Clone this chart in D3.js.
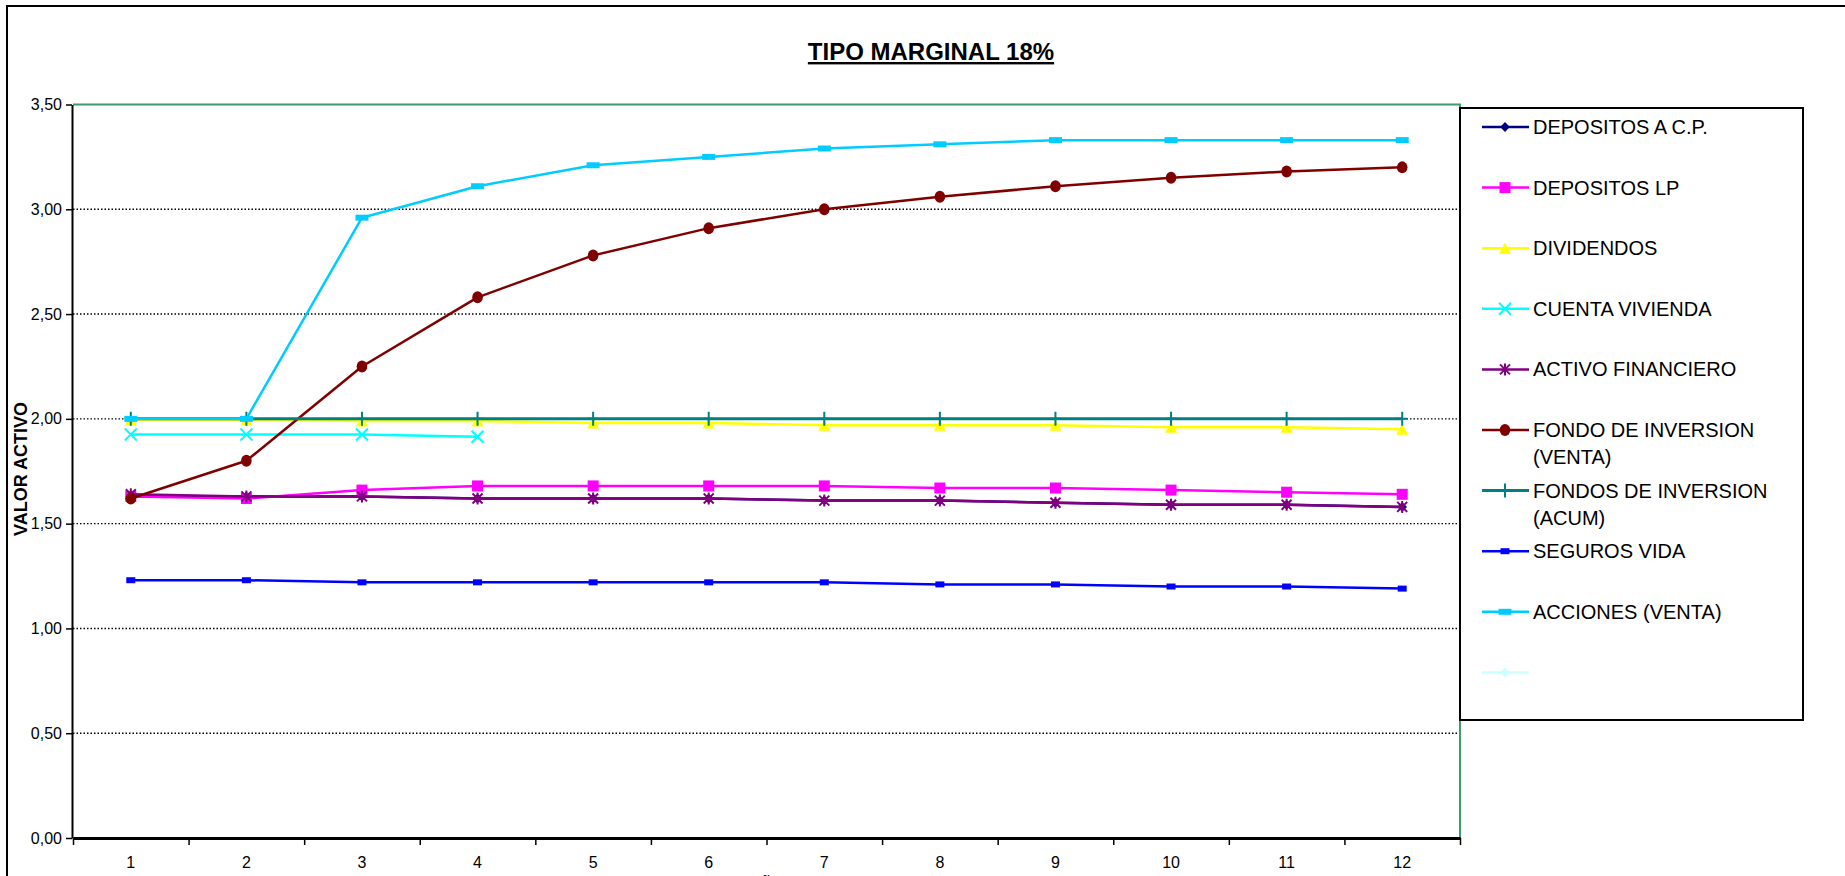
<!DOCTYPE html>
<html>
<head>
<meta charset="utf-8">
<script src="https://cdnjs.cloudflare.com/ajax/libs/d3/7.8.5/d3.min.js"></script>
<style>
  html, body { margin: 0; padding: 0; background: #fff; overflow: hidden; }
  text { font-family: "Liberation Sans", Arial, sans-serif; }
</style>
</head>
<body>
<svg id="chart" width="1845" height="876"></svg>
<script>
// ---------------- DATA ----------------
const chartTitle = "TIPO MARGINAL 18%";
const yAxisTitle = "VALOR ACTIVO";
const xAxisTitle = "AÑO";
const categories = ["1","2","3","4","5","6","7","8","9","10","11","12"];
const yTickValues = [0, 0.5, 1.0, 1.5, 2.0, 2.5, 3.0, 3.5];

const seriesNames = [
  "DEPOSITOS A C.P.",
  "DEPOSITOS LP",
  "DIVIDENDOS",
  "CUENTA VIVIENDA",
  "ACTIVO FINANCIERO",
  "FONDO DE INVERSION (VENTA)",
  "FONDOS DE INVERSION (ACUM)",
  "SEGUROS VIDA",
  "ACCIONES (VENTA)",
  ""
];
const depositosCP      = [1.63, 1.63, 1.63, 1.62, 1.62, 1.62, 1.61, 1.61, 1.60, 1.59, 1.59, 1.58];
const depositosLP      = [1.63, 1.62, 1.66, 1.68, 1.68, 1.68, 1.68, 1.67, 1.67, 1.66, 1.65, 1.64];
const dividendos       = [1.995, 1.995, 1.99, 1.99, 1.98, 1.98, 1.97, 1.97, 1.97, 1.96, 1.96, 1.95];
const cuentaVivienda   = [1.925, 1.925, 1.925, 1.915];
const activoFinanciero = [1.64, 1.63, 1.63, 1.62, 1.62, 1.62, 1.61, 1.61, 1.60, 1.59, 1.59, 1.58];
const fondoVenta       = [1.62, 1.80, 2.25, 2.58, 2.78, 2.91, 3.00, 3.06, 3.11, 3.15, 3.18, 3.20];
const fondosAcum       = [2.00, 2.00, 2.00, 2.00, 2.00, 2.00, 2.00, 2.00, 2.00, 2.00, 2.00, 2.00];
const segurosVida      = [1.23, 1.23, 1.22, 1.22, 1.22, 1.22, 1.22, 1.21, 1.21, 1.20, 1.20, 1.19];
const accionesVenta    = [2.00, 2.00, 2.96, 3.11, 3.21, 3.25, 3.29, 3.31, 3.33, 3.33, 3.33, 3.33];
const serieVacia       = [];

const seriesValues = [depositosCP, depositosLP, dividendos, cuentaVivienda, activoFinanciero,
                      fondoVenta, fondosAcum, segurosVida, accionesVenta, serieVacia];

// ---------------- STYLES ----------------
const seriesStyle = [
  {color: "#000080", marker: "diamond", width: 2.5},
  {color: "#FF00FF", marker: "square",  width: 2.5},
  {color: "#FFFF00", marker: "triangle",width: 2.5},
  {color: "#00FFFF", marker: "x",       width: 2.5},
  {color: "#800080", marker: "asterisk",width: 2.5},
  {color: "#800000", marker: "circle",  width: 2.5},
  {color: "#008080", marker: "plus",    width: 3},
  {color: "#0000FF", marker: "smallrect", width: 2.5},
  {color: "#00CCFF", marker: "widerect",  width: 2.5},
  {color: "#CCFFFF", marker: "diamond", width: 2.5}
];

const plot = {left: 73, right: 1460, top: 104.5, bottom: 838};

const svg = d3.select("#chart");
svg.append("rect").attr("width", 1845).attr("height", 876).attr("fill", "#fff");

// outer chart border
svg.append("rect").attr("x", 7).attr("y", 6).attr("width", 1950).attr("height", 1000)
  .attr("fill", "none").attr("stroke", "#000").attr("stroke-width", 2);

const x = d3.scaleBand().domain(categories).range([plot.left, plot.right]);
const xEdge = d3.scaleLinear().domain([0, categories.length]).range([plot.left, plot.right]);
const y = d3.scaleLinear().domain([0, 3.5]).range([plot.bottom, plot.top]);

// gridlines
svg.append("g").selectAll("line")
  .data(yTickValues.filter(v => v > 0 && v < 3.5))
  .join("line")
  .attr("x1", plot.left).attr("x2", plot.right)
  .attr("y1", d => y(d)).attr("y2", d => y(d))
  .attr("stroke", "#000").attr("stroke-width", 1.4).attr("stroke-dasharray", "1.5,2");

// plot area top/right border (green)
svg.append("path")
  .attr("d", `M${plot.left},${y(3.5)}H${plot.right}V${plot.bottom}`)
  .attr("fill", "none").attr("stroke", "#3c9c6c").attr("stroke-width", 2);

// y axis
const fmt = v => d3.format(".2f")(v).replace(".", ",");
const yAxis = svg.append("g").attr("transform", `translate(${plot.left - 1},0)`)
  .call(d3.axisLeft(y).tickValues(yTickValues).tickFormat(fmt).tickSize(6).tickSizeOuter(0).tickPadding(4));
yAxis.select(".domain").attr("stroke-width", 2);
yAxis.selectAll(".tick line").attr("stroke-width", 1.5);
yAxis.selectAll("text").attr("font-size", 16).attr("fill", "#000");

// x axis: ticks at category boundaries
const xTicks = svg.append("g").attr("transform", `translate(0,${plot.bottom})`)
  .call(d3.axisBottom(xEdge).tickValues(d3.range(0, categories.length + 1)).tickFormat("").tickSize(7).tickSizeOuter(0));
xTicks.select(".domain").attr("stroke-width", 3);
xTicks.selectAll(".tick line").attr("stroke-width", 1.5);

// x axis labels
const xLabels = svg.append("g").attr("transform", `translate(0,${plot.bottom})`)
  .call(d3.axisBottom(x).tickSize(0).tickPadding(19));
xLabels.select(".domain").remove();
xLabels.selectAll("text").attr("font-size", 16).attr("fill", "#000");

// titles
svg.append("text").attr("x", 931).attr("y", 60).attr("text-anchor", "middle")
  .attr("font-size", 24).attr("font-weight", "bold").attr("text-decoration", "underline")
  .text(chartTitle);
svg.append("text").attr("transform", "translate(21,469) rotate(-90)")
  .attr("text-anchor", "middle").attr("dominant-baseline", "central")
  .attr("font-size", 18).attr("font-weight", "bold").text(yAxisTitle);
svg.append("text").attr("x", (plot.left + plot.right) / 2).attr("y", 888)
  .attr("text-anchor", "middle").attr("font-size", 15).attr("font-weight", "bold").text(xAxisTitle);

// marker drawing
function drawMarker(g, type, color, cx, cy) {
  switch (type) {
    case "diamond":
      g.append("path").attr("d", `M${cx},${cy-5}L${cx+4.8},${cy}L${cx},${cy+5}L${cx-4.8},${cy}Z`).attr("fill", color);
      break;
    case "square":
      g.append("rect").attr("x", cx-5.5).attr("y", cy-5.5).attr("width", 11).attr("height", 11).attr("fill", color);
      break;
    case "triangle":
      g.append("path").attr("d", `M${cx},${cy-5.5}L${cx+6},${cy+5.5}L${cx-6},${cy+5.5}Z`).attr("fill", color);
      break;
    case "x":
      g.append("path").attr("d", `M${cx-6},${cy-6}L${cx+6},${cy+6}M${cx+6},${cy-6}L${cx-6},${cy+6}`)
        .attr("stroke", color).attr("stroke-width", 2).attr("fill", "none");
      break;
    case "asterisk":
      g.append("path").attr("d", `M${cx-5},${cy-5}L${cx+5},${cy+5}M${cx+5},${cy-5}L${cx-5},${cy+5}M${cx},${cy-6}L${cx},${cy+6}`)
        .attr("stroke", color).attr("stroke-width", 2).attr("fill", "none");
      break;
    case "circle":
      g.append("ellipse").attr("cx", cx).attr("cy", cy).attr("rx", 5.3).attr("ry", 6).attr("fill", color);
      break;
    case "plus":
      g.append("path").attr("d", `M${cx},${cy-7}L${cx},${cy+7}M${cx-5},${cy}L${cx+5},${cy}`)
        .attr("stroke", color).attr("stroke-width", 2).attr("fill", "none");
      break;
    case "smallrect":
      g.append("rect").attr("x", cx-4.5).attr("y", cy-3).attr("width", 9).attr("height", 6).attr("fill", color);
      break;
    case "widerect":
      g.append("rect").attr("x", cx-6.5).attr("y", cy-3).attr("width", 13).attr("height", 6).attr("fill", color);
      break;
  }
}

// series
const line = d3.line().x(d => x(d.c) + x.bandwidth() / 2).y(d => y(d.v));
const seriesG = svg.append("g");
seriesValues.forEach((vals, i) => {
  const st = seriesStyle[i];
  const pts = vals.map((v, j) => ({c: categories[j], v}));
  if (!pts.length) return;
  const g = seriesG.append("g");
  g.append("path").datum(pts).attr("d", line)
    .attr("fill", "none").attr("stroke", st.color).attr("stroke-width", st.width).attr("stroke-linejoin", "round");
  pts.forEach(p => drawMarker(g, st.marker, st.color, x(p.c) + x.bandwidth() / 2, y(p.v)));
});

// legend
const lg = svg.append("g");
lg.append("rect").attr("x", 1460).attr("y", 108).attr("width", 343).attr("height", 612)
  .attr("fill", "#fff").attr("stroke", "#000").attr("stroke-width", 2);
const legendTop = 127, legendStep = 60.6, textX = 1533, maxW = 262;
seriesNames.forEach((name, i) => {
  const st = seriesStyle[i];
  const cy = legendTop + i * legendStep;
  lg.append("line").attr("x1", 1482).attr("x2", 1529).attr("y1", cy).attr("y2", cy)
    .attr("stroke", st.color).attr("stroke-width", st.width);
  drawMarker(lg, st.marker, st.color, 1505, cy);
  const t = lg.append("text").attr("x", textX).attr("y", cy + 7).attr("font-size", 20).attr("fill", "#000");
  // simple word wrap
  const words = name.split(" ");
  let lineWords = [];
  let tspan = t.append("tspan").attr("x", textX).attr("dy", 0);
  words.forEach(w => {
    lineWords.push(w);
    tspan.text(lineWords.join(" "));
    if (tspan.node().getComputedTextLength() > maxW && lineWords.length > 1) {
      lineWords.pop();
      tspan.text(lineWords.join(" "));
      lineWords = [w];
      tspan = t.append("tspan").attr("x", textX).attr("dy", 27).text(w);
    }
  });
});
</script>
</body>
</html>
